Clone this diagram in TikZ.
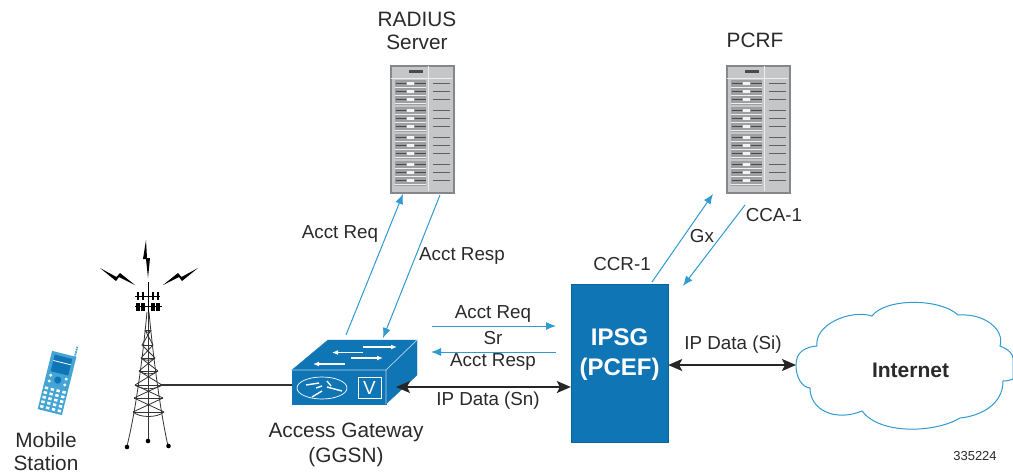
\documentclass[tikz,border=0pt]{standalone}
\usepackage{fontspec}
\setmainfont{Liberation Sans}
\usetikzlibrary{arrows.meta}
\definecolor{ciscoblue}{HTML}{0F75B5}
\definecolor{linkblue}{HTML}{2F9BD0}
\definecolor{rackgrey}{HTML}{C4C6C8}
\definecolor{rackdark}{HTML}{85878A}
\definecolor{txt}{HTML}{2A2A2A}
\tikzset{
  lbl/.style={font=\fontsize{18.8}{22}\selectfont,text=txt,align=center,inner sep=0pt},
  biglbl/.style={font=\fontsize{20.8}{#1}\selectfont,text=txt,align=center,inner sep=0pt},
  bluearrow/.style={draw=linkblue,line width=1pt,-{Latex[length=10pt,width=8pt]}},
  blackarrow/.style={draw=black!85,line width=1.4pt,{Stealth[length=14pt,width=12pt,inset=3pt]}-{Stealth[length=14pt,width=12pt,inset=3pt]}},
  towerline/.style={draw=black!80,line width=.8pt},
  rack/.style={draw=rackdark,fill=rackgrey,line width=1.6pt,inner sep=0pt,minimum width=#1},
}
\newcommand{\rackunit}[2]{%
  \begin{scope}[shift={(#1,#2)}]
    \fill[rackdark!80] (0,0) rectangle (31,24.5);
    \foreach \yy in {3.5,11.5,19.5}{
      \fill[white!80!rackgrey] (12,\yy-1.7) rectangle (18.5,\yy+1.7);
      \draw[white!70!rackgrey,line width=.7pt] (0,\yy+3.7) -- (31,\yy+3.7);
      \draw[rackdark!55!black,line width=1.3pt] (0.5,\yy) -- (11,\yy) (19.5,\yy) -- (30.5,\yy);
      \draw[rackdark!70!black,line width=1.3pt] (38,\yy) -- (55,\yy);
    }
  \end{scope}}
\newcommand{\serverrack}[3]{%
  \node[rack=63pt,minimum height=127pt,anchor=north west] (#1) at (#2,#3) {};
  \begin{scope}[shift={(#2,#3)}]
    \draw[white!70!rackgrey,line width=1pt] (38,0.8) -- (38,126.2);
    \draw[rackdark!55!black,line width=2.4pt] (19,6.5) -- (33,6.5);
    \draw[white!70!rackgrey,line width=1pt] (1,13) -- (62,13);
    \rackunit{5}{15}\rackunit{5}{42}\rackunit{5}{69}\rackunit{5}{96}
  \end{scope}}
\begin{document}
\begin{tikzpicture}[x=1pt,y=-1pt]
\useasboundingbox (0,0) rectangle (1013,474);
\fill[white] (0,0) rectangle (1013,474);

% servers
\serverrack{radius}{390}{65}
\serverrack{pcrf}{726}{65}
\node[biglbl=22.5] (radiuslabel) at (417,31) {RADIUS\\Server};
\node[biglbl=22] (pcrflabel) at (755,40) {PCRF};

% IPSG
\node[draw=ciscoblue!85!black,fill=ciscoblue,minimum width=97pt,minimum height=158pt,inner sep=0pt] (ipsg) at (619.5,363) {};
\node[font=\fontsize{24}{30}\selectfont\bfseries,text=white,align=center,inner sep=0pt] (ipsglabel) at (619.5,355) {IPSG\\(PCEF)};

% cloud
\draw[draw=linkblue,line width=1pt,fill=white]
  (796,365) .. controls (796,352) and (805,347) .. (817,346)
  .. controls (814,325) and (850,309) .. (872,316)
  .. controls (885,298) and (940,298) .. (958,315)
  .. controls (985,313) and (1005,330) .. (1000,346)
  .. controls (1008,349) and (1013,354) .. (1013,358)
  -- (1013,379)
  .. controls (1008,381) and (1005,381) .. (1003,381)
  .. controls (1003,405) and (980,416) .. (960,418)
  .. controls (935,433) and (880,435) .. (862,411)
  .. controls (835,422) and (810,410) .. (810,388)
  .. controls (802,387) and (796,378) .. (796,365) -- cycle;
\node[font=\fontsize{21}{24}\selectfont\bfseries,text=txt,inner sep=0pt] (internet) at (910.5,370) {Internet};

% gateway
\coordinate (gwA) at (292,370);
\coordinate (gwB) at (328,340);
\coordinate (gwC) at (417,340);
\coordinate (gwD) at (386,370);
\coordinate (gwE) at (386,404);
\coordinate (gwF) at (292,404);
\coordinate (gwG) at (417,375);
\fill[ciscoblue,draw=ciscoblue] (gwA) -- (gwB) -- (gwC) -- (gwD) -- cycle;
\fill[ciscoblue,draw=ciscoblue] (gwA) -- (gwD) -- (gwE) -- (gwF) -- cycle;
\fill[ciscoblue,draw=ciscoblue] (gwD) -- (gwC) -- (gwG) -- (gwE) -- cycle;
\draw[white!70!ciscoblue,line width=.7pt] (gwA) -- (gwD) -- (gwC) (gwD) -- (gwE);
\begin{scope}[white,line width=1.3pt,-{Latex[length=6pt,width=5pt]}]
  \draw (363,347) -- (397,347);
  \draw (363,352.5) -- (332,352.5);
  \draw (351,358) -- (383,358);
  \draw (345,364) -- (313,364);
\end{scope}
\draw[white,line width=.7pt] (322,388) ellipse (25pt and 11pt);
\begin{scope}[white,line width=1.4pt]
  \draw (306,385) -- (319,383) (312,397) -- (322,391);
  \draw (327,381) -- (331,386) (327,387) -- (342,391);
  \draw (316,388) -- (322,386);
\end{scope}
\draw[white,line width=.7pt] (358,377) rectangle (381,398);
\node[font=\fontsize{19}{21}\selectfont,text=white,inner sep=0pt] (vmark) at (369.5,387.5) {V};
\node[biglbl=25] (gwlabel) at (346,445) {Access Gateway\\(GGSN)};

% tower
\begin{scope}[towerline]
  \draw (148,300) -- (148,440);
  \draw (147,312) .. controls (143,355) and (136,410) .. (127,446);
  \draw (149,312) .. controls (153,355) and (160,410) .. (168,446);
  \draw (145,330) -- (151,330) (141,358) -- (155,358) (135,385) -- (162,385) (133,412) -- (164,412);
  \draw (142,345) -- (153,345) (139,371) -- (158,371) (134,398) -- (163,398);
  \draw (145,330) -- (153,345) (151,330) -- (142,345);
  \draw (142,345) -- (155,358) (153,345) -- (141,358);
  \draw (141,358) -- (158,371) (155,358) -- (139,371);
  \draw (139,371) -- (162,385) (158,371) -- (135,385);
  \draw (135,385) -- (163,398) (162,385) -- (134,398);
  \draw (134,398) -- (164,412) (163,398) -- (133,412);
  \draw (133,412) .. controls (140,418) and (157,418) .. (164,412);
  \draw (135,385) .. controls (142,390) and (155,390) .. (162,385);
  \draw (139,371) .. controls (144,375) and (153,375) .. (158,371);
  \draw (141,358) .. controls (145,361) and (151,361) .. (155,358);
  \draw (145,330) .. controls (146,333) and (150,333) .. (151,330);
\end{scope}
\fill[black] (127,447) circle (2.3pt) (148,441) circle (2.3pt) (168.5,446) circle (2.3pt);
% antennas
\foreach \x in {138,143,153,158}{
  \fill[black] (\x-1,292) rectangle (\x+1,300);
  \fill[black] (\x-2.4,303) rectangle (\x+2.4,311);
}
\draw[black,line width=.8pt] (135,296.5) -- (160,296.5) (135,306) -- (162,306);
\draw[black,line width=.9pt] (148,282) -- (148,312);
% lightning
\fill[black] (146,240) -- (143,259) -- (146,259) -- (148,278) -- (150,258) -- (147,258) -- cycle;
\fill[black] (100,268) -- (116,281) -- (119,277) -- (135,285) -- (120,273) -- (116.5,277) -- cycle;
\fill[black] (198,268) -- (182,281) -- (179,277) -- (163,285) -- (178,273) -- (181.5,277) -- cycle;

% mobile
\begin{scope}[shift={(57,383)},rotate=-14]
  \fill[linkblue!90!white] (-12.5,-30) rectangle (12.5,30);
  \draw[linkblue,line width=1.8pt,dash pattern=on 1.5pt off .8pt] (11,-40) -- (11,-30);
  \fill[ciscoblue] (-9,-27) rectangle (9,-10);
  \draw[white,line width=.8pt] (-9,-21) -- (9,-21);
  \fill[white] (-8,-6) circle (1.6pt) (8,-6) circle (1.6pt) (-8,0) circle (1.6pt) (8,0) circle (1.6pt);
  \fill[ciscoblue] (0,-3) circle (3.6pt);
  \foreach \i in {0,1,2,3,4}{
    \foreach \j in {-9,-3,3,9}{
      \fill[white] (\j-1.7,6+\i*4.8) rectangle (\j+1.7,8.6+\i*4.8);
    }
  }
\end{scope}
\node[biglbl=23.5] (mobilelabel) at (46,451.5) {Mobile\\Station};

% connector anchors
\coordinate (towerpt) at (160,385);
\coordinate (gwleft) at (292,385);
\coordinate (gwright) at (396,387);
\coordinate (ipsgsn) at (ipsg.west |- gwright);
\coordinate (cloudleft) at (796,365);
\coordinate (ipsgsi) at (ipsg.east |- cloudleft);
\coordinate (rq1) at (346,335);
\coordinate (rq2) at (403,194);
\coordinate (rs1) at (440,195);
\coordinate (rs2) at (383,338);
\coordinate (ah1) at (432,326);
\coordinate (ah2) at (556,326);
\coordinate (ar1) at (556,352);
\coordinate (ar2) at (431,352);
\coordinate (gx1) at (652,282);
\coordinate (gx2) at (713,194);
\coordinate (cc1) at (745,205);
\coordinate (cc2) at (683,286);

% connectors
\draw[towerline,line width=1.2pt] (towerpt) -- (gwleft);
\draw[blackarrow] (gwright) -- (ipsgsn);
\draw[blackarrow] (ipsgsi) -- (cloudleft);
\draw[bluearrow] (rq1) -- (rq2);
\draw[bluearrow] (rs1) -- (rs2);
\draw[bluearrow] (ah1) -- (ah2);
\draw[bluearrow] (ar1) -- (ar2);
\draw[bluearrow] (gx1) -- (gx2);
\draw[bluearrow] (cc1) -- (cc2);

% labels
\node[lbl] (l1) at (340,234) {Acct Req};
\node[lbl] (l2) at (462,256) {Acct Resp};
\node[lbl] (l3) at (493,314) {Acct Req};
\node[lbl] (l4) at (493,338) {Sr};
\node[lbl] (l5) at (493,362) {Acct Resp};
\node[lbl] (l6) at (488,401) {IP Data (Sn)};
\node[lbl] (l7) at (622,264) {CCR-1};
\node[lbl] (l8) at (702,236) {Gx};
\node[lbl] (l9) at (774,215) {CCA-1};
\node[lbl] (l10) at (733,345) {IP Data (Si)};
\node[font=\fontsize{13}{15}\selectfont,text=txt,inner sep=0pt] (num) at (975,456) {335224};
\end{tikzpicture}
\end{document}
